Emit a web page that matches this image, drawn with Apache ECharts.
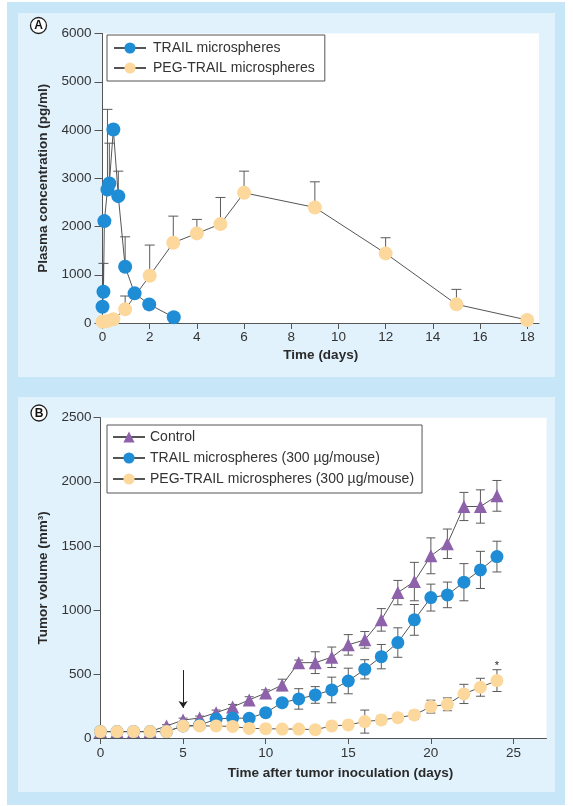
<!DOCTYPE html>
<html><head><meta charset="utf-8">
<script src="https://cdn.jsdelivr.net/npm/echarts@6/dist/echarts.min.js"></script>
<style>html,body{margin:0;padding:0;background:#fff}#c{width:573px;height:806px}</style>
</head><body><div id="c"></div>
<script>
// ---------- Panel A data ----------
const trailDaysA = [0, 0.04, 0.08, 0.21, 0.29, 0.46, 0.67, 0.96, 1.36, 1.98, 3.02];
const trailConcA = [338, 648, 2112, 2768, 2892, 4010, 2629, 1166, 614, 386, 118];
const trailErrA  = [0, 588, 0, 1660, 835, 0, 518, 620, 0, 0, 0];
const pegDaysA = [0, 0.21, 0.46, 0.96, 2, 3, 4, 5, 6, 9, 12, 15, 18];
const pegConcA = [27, 40, 77, 283, 980, 1663, 1857, 2050, 2698, 2395, 1443, 387, 62];
const pegErrA  = [0, 0, 0, 276, 635, 552, 290, 552, 449, 531, 324, 310, 0];
const xTicksA = [0, 2, 4, 6, 8, 10, 12, 14, 16, 18];

// ---------- Panel B data ----------
const daysB = [0,1,2,3,4,5,6,7,8,9,10,11,12,13,14,15,16,17,18,19,20,21,22,23,24];
const controlB = [50,50,50,50,94,140,156,198,242,297,351,414,588,588,630,727,766,922,1135,1221,1422,1516,1807,1807,1890];
const controlErrB = [0,0,0,0,10,15,15,20,20,25,25,45,20,85,80,80,65,88,95,150,140,115,110,130,120];
const trailB = [50,50,50,50,50,94,100,148,156,154,198,276,305,336,375,445,536,635,745,922,1096,1117,1216,1312,1416];
const trailErrB = [0,0,0,0,0,10,10,15,20,20,20,30,80,65,100,100,75,95,115,120,105,100,145,145,120];
const pegB = [50,50,50,50,50,94,94,94,90,75,73,70,70,65,94,102,128,141,159,180,245,263,344,396,448];
const pegErrB = [0,0,0,0,0,10,10,10,10,10,10,10,10,15,20,25,90,35,30,35,50,50,75,70,85];
const xTicksB = [0, 5, 10, 15, 20, 25];

const FONT = "'Liberation Sans', Arial, sans-serif";
const BLUE = '#1f8dd6', PEACH = '#fdd89c', PURPLE = '#8d62aa', LINE = '#555';

const zip = (xs, ys) => xs.map((x, i) => [x, ys[i]]);
const zip3 = (xs, ys, es) => xs.map((x, i) => [x, ys[i], es[i]]);

function errRender(capHalf, both) {
  return function (params, api) {
    const x = api.value(0), y = api.value(1), e = api.value(2);
    if (!e) return null;
    const top = api.coord([x, y + e]);
    const mid = api.coord([x, y]);
    const bot = both ? api.coord([x, y - e]) : mid;
    const style = { stroke: '#5a5a5a', lineWidth: 1 };
    const ch = [
      { type: 'line', shape: { x1: top[0], y1: top[1], x2: bot[0], y2: bot[1] }, style },
      { type: 'line', shape: { x1: top[0] - capHalf, y1: top[1], x2: top[0] + capHalf, y2: top[1] }, style }
    ];
    if (both) ch.push({ type: 'line', shape: { x1: bot[0] - capHalf, y1: bot[1], x2: bot[0] + capHalf, y2: bot[1] }, style });
    return { type: 'group', children: ch };
  };
}

const axisCommon = {
  axisLine: { show: true, lineStyle: { color: LINE, width: 1 } },
  axisTick: { show: true, lineStyle: { color: LINE } },
  splitLine: { show: false },
  nameTextStyle: { fontFamily: FONT, fontWeight: 'bold', fontSize: 13.5, color: '#2a2a2a' }
};
const lab = (m) => ({ margin: m, fontFamily: FONT, fontSize: 13.5, color: '#333', formatter: (v) => String(v) });

function panelLabel(letter, x, y) {
  return {
    type: 'group', children: [
      { type: 'circle', shape: { cx: x, cy: y, r: 8 }, style: { fill: '#fff', stroke: '#222', lineWidth: 1.3 } },
      { type: 'text', x: x, y: y + 0.5, style: { text: letter, fontFamily: FONT, fontWeight: 'bold', fontSize: 12, fill: '#111', align: 'center', verticalAlign: 'middle' } }
    ]
  };
}

const option = {
  animation: false,
  backgroundColor: '#fff',
  graphic: [
    { type: 'rect', shape: { x: 7, y: 2, width: 558, height: 803 }, style: { fill: '#c7e6f8' }, z: -10 },
    { type: 'rect', shape: { x: 18, y: 13, width: 537, height: 364 }, style: { fill: '#e2f2fc' }, z: -9 },
    { type: 'rect', shape: { x: 18, y: 397, width: 537, height: 395 }, style: { fill: '#e2f2fc' }, z: -9 },
    panelLabel('A', 38.5, 25.5),
    panelLabel('B', 39, 413)
  ],
  grid: [
    { left: 102.5, right: 34, top: 33.5, bottom: 483, show: true, backgroundColor: '#fff', borderWidth: 0 },
    { left: 100.5, right: 26.5, top: 417.7, bottom: 68, show: true, backgroundColor: '#fff', borderWidth: 0 }
  ],
  legend: [
    {
      data: ['TRAIL microspheres', 'PEG-TRAIL microspheres'],
      orient: 'vertical', left: 107, top: 35,
      padding: [6, 10, 6, 6], itemGap: 6, itemWidth: 32, itemHeight: 14,
      borderColor: LINE, borderWidth: 1, backgroundColor: '#fff',
      textStyle: { fontFamily: FONT, fontSize: 14, color: '#333', padding: [0, 0, 0, 2] }
    },
    {
      data: ['Control', 'TRAIL microspheres (300 µg/mouse)', 'PEG-TRAIL microspheres (300 µg/mouse)'],
      orient: 'vertical', left: 107, top: 425,
      padding: [5, 8, 7, 5], itemGap: 7, itemWidth: 32, itemHeight: 14,
      borderColor: LINE, borderWidth: 1, backgroundColor: '#fff',
      textStyle: { fontFamily: FONT, fontSize: 14, color: '#333' }
    }
  ],
  xAxis: [
    Object.assign({}, axisCommon, {
      gridIndex: 0, type: 'value', min: 0, max: 18.5,
      name: 'Time (days)', nameLocation: 'middle', nameGap: 25,
      axisTick: { show: true, length: 6, lineStyle: { color: LINE }, customValues: xTicksA },
      axisLabel: Object.assign(lab(7), { customValues: xTicksA })
    }),
    Object.assign({}, axisCommon, {
      gridIndex: 1, type: 'value', min: 0, max: 27,
      name: 'Time after tumor inoculation (days)', nameLocation: 'middle', nameGap: 28,
      nameTextStyle: Object.assign({}, axisCommon.nameTextStyle, { padding: [0, 0, 0, 34] }),
      axisTick: { show: true, length: 6, lineStyle: { color: LINE }, customValues: xTicksB },
      axisLabel: Object.assign(lab(8), { customValues: xTicksB })
    })
  ],
  yAxis: [
    Object.assign({}, axisCommon, {
      gridIndex: 0, type: 'value', min: 0, max: 6000, interval: 1000,
      name: 'Plasma concentration (pg/ml)', nameLocation: 'middle', nameGap: 47,
      axisTick: { show: true, length: 8, lineStyle: { color: LINE } },
      axisLabel: lab(11)
    }),
    Object.assign({}, axisCommon, {
      gridIndex: 1, type: 'value', min: 0, max: 2500, interval: 500,
      name: 'Tumor volume (mm³)', nameLocation: 'middle', nameGap: 48,
      axisTick: { show: true, length: 7, lineStyle: { color: LINE } },
      axisLabel: lab(9)
    })
  ],
  series: [
    // Panel A error bars
    { type: 'custom', xAxisIndex: 0, yAxisIndex: 0, z: 1, renderItem: errRender(5, false), data: zip3(trailDaysA, trailConcA, trailErrA), encode: { x: 0, y: 1 }, silent: true },
    { type: 'custom', xAxisIndex: 0, yAxisIndex: 0, z: 1, renderItem: errRender(5, false), data: zip3(pegDaysA, pegConcA, pegErrA), encode: { x: 0, y: 1 }, silent: true },
    {
      name: 'PEG-TRAIL microspheres', type: 'line', xAxisIndex: 0, yAxisIndex: 0, z: 2,
      data: zip(pegDaysA, pegConcA), symbol: 'circle', symbolSize: 14, showAllSymbol: true,
      lineStyle: { color: LINE, width: 1 }, itemStyle: { color: PEACH }
    },
    {
      name: 'TRAIL microspheres', type: 'line', xAxisIndex: 0, yAxisIndex: 0, z: 3,
      data: zip(trailDaysA, trailConcA), symbol: 'circle', symbolSize: 14, showAllSymbol: true,
      lineStyle: { color: LINE, width: 1 }, itemStyle: { color: BLUE }
    },
    // Panel B error bars
    { type: 'custom', xAxisIndex: 1, yAxisIndex: 1, z: 1, renderItem: errRender(4.5, true), data: zip3(daysB, controlB, controlErrB), encode: { x: 0, y: 1 }, silent: true },
    { type: 'custom', xAxisIndex: 1, yAxisIndex: 1, z: 1, renderItem: errRender(4.5, true), data: zip3(daysB, trailB, trailErrB), encode: { x: 0, y: 1 }, silent: true },
    { type: 'custom', xAxisIndex: 1, yAxisIndex: 1, z: 1, renderItem: errRender(4.5, true), data: zip3(daysB, pegB, pegErrB), encode: { x: 0, y: 1 }, silent: true },
    {
      name: 'Control', type: 'line', xAxisIndex: 1, yAxisIndex: 1, z: 2,
      data: zip(daysB, controlB), symbol: 'triangle', symbolSize: 13, showAllSymbol: true,
      lineStyle: { color: LINE, width: 1 }, itemStyle: { color: PURPLE },
      markLine: {
        silent: true, symbol: ['none', 'arrow'], symbolSize: 7,
        label: { show: false },
        lineStyle: { color: '#222', width: 1, type: 'solid' },
        data: [[{ coord: [5, 530] }, { coord: [5, 235] }]]
      }
    },
    {
      name: 'TRAIL microspheres (300 µg/mouse)', type: 'line', xAxisIndex: 1, yAxisIndex: 1, z: 3,
      data: zip(daysB, trailB), symbol: 'circle', symbolSize: 13, showAllSymbol: true,
      lineStyle: { color: LINE, width: 1 }, itemStyle: { color: BLUE }
    },
    {
      name: 'PEG-TRAIL microspheres (300 µg/mouse)', type: 'line', xAxisIndex: 1, yAxisIndex: 1, z: 4,
      data: zip(daysB, pegB), symbol: 'circle', symbolSize: 13, showAllSymbol: true,
      lineStyle: { color: LINE, width: 1 }, itemStyle: { color: PEACH },
      markPoint: {
        silent: true, symbol: 'circle', symbolSize: 1, itemStyle: { color: 'rgba(0,0,0,0)' },
        label: { show: true, formatter: '*', position: 'inside', color: '#222', fontFamily: FONT, fontSize: 11 },
        data: [{ coord: [24, 565] }]
      }
    }
  ]
};
echarts.init(document.getElementById('c')).setOption(option);
</script></body></html>
